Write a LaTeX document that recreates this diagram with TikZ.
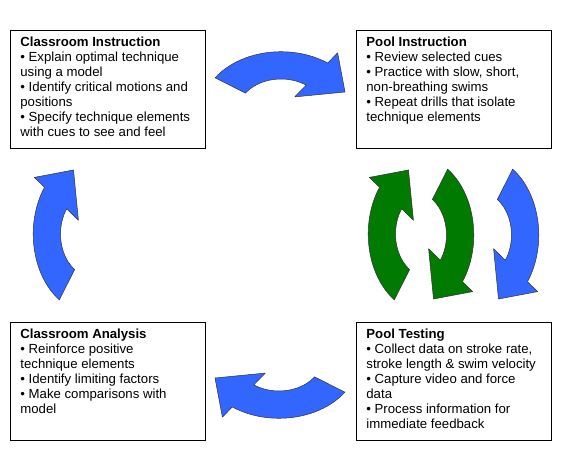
\documentclass[tikz,border=0pt]{standalone}
\usepackage{fontspec}
\setmainfont{Liberation Sans}
\definecolor{arrowblue}{HTML}{3366FF}
\definecolor{arrowgreen}{HTML}{007A00}

\tikzset{
  phase/.style={draw, line width=0.8pt, anchor=north west, inner xsep=10pt, inner ysep=6pt,
    font=\fontsize{13.2}{15}\selectfont},
  bluearrow/.style={fill=arrowblue, draw=black!80, line width=0.5pt, line join=round},
  greenarrow/.style={fill=arrowgreen, draw=black!80, line width=0.5pt, line join=round}
}
\newcommand{\phasetext}[1]{\parbox[t][106pt][t]{175pt}{\raggedright\strut #1}}
% one bent block arrow, tail on the left, head on the right
\newcommand{\bendpath}{(146:79.5 and 59.3) arc[start angle=146, end angle=54, x radius=79.5, y radius=59.3]
  -- (54:96.3 and 71.9) -- (21.7:68.9 and 51.4) -- (54:23.3 and 17.4)
  -- (54:42.9 and 32) arc[start angle=54, end angle=146, x radius=42.9, y radius=32] -- cycle}

\begin{document}
\begin{tikzpicture}[x=1pt, y=1pt]
  \useasboundingbox (0,0) rectangle (563,469);
  % phases
  \node[phase] (ci) at (10,439) {\phasetext{\textbf{Classroom Instruction}\\
    \textbullet\ Explain optimal technique\\ using a model\\
    \textbullet\ Identify critical motions and\\ positions\\
    \textbullet\ Specify technique elements\\ with cues to see and feel}};
  \node[phase] (pi) at (356,439) {\phasetext{\textbf{Pool Instruction}\\
    \textbullet\ Review selected cues\\
    \textbullet\ Practice with slow, short,\\ non-breathing swims\\
    \textbullet\ Repeat drills that isolate\\ technique elements}};
  \node[phase] (ca) at (10,147) {\phasetext{\textbf{Classroom Analysis}\\
    \textbullet\ Reinforce positive\\ technique elements\\
    \textbullet\ Identify limiting factors\\
    \textbullet\ Make comparisons with\\ model}};
  \node[phase] (pt) at (356,147) {\phasetext{\textbf{Pool Testing}\\
    \textbullet\ Collect data on stroke rate,\\ stroke length \& swim velocity\\
    \textbullet\ Capture video and force\\ data\\
    \textbullet\ Process information for\\ immediate feedback}};
  % cycle arrows
  \draw[bluearrow, shift={(281,358)}] \bendpath;
  \draw[bluearrow, shift={(479.5,234)}, rotate=-90] \bendpath;
  \draw[bluearrow, shift={(279,110)}, rotate=180] \bendpath;
  \draw[bluearrow, shift={(92.5,235)}, rotate=90] \bendpath;
  \draw[greenarrow, shift={(427.5,235)}, rotate=90] \bendpath;
  \draw[greenarrow, shift={(414.5,234)}, rotate=-90] \bendpath;
\end{tikzpicture}
\end{document}
